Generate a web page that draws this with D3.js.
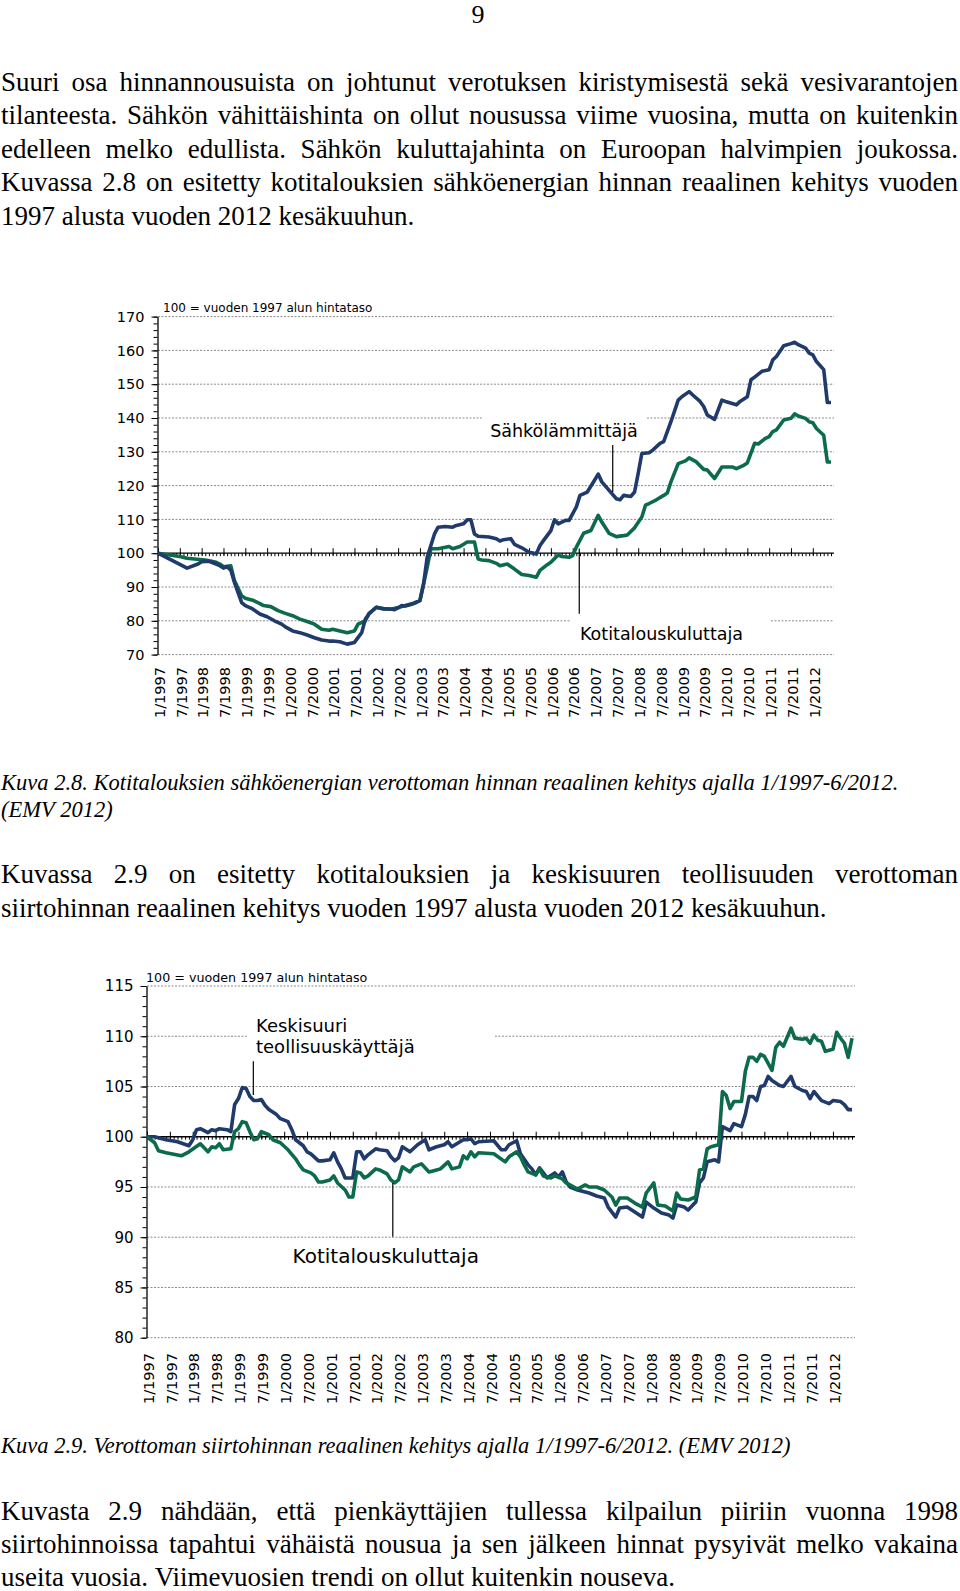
<!DOCTYPE html>
<html><head><meta charset="utf-8">
<script src="https://cdn.jsdelivr.net/npm/d3@7"></script>
<style>body{margin:0;background:#fff}svg{display:block}</style>
</head><body>
<svg id="page" width="960" height="1591"></svg>
<script>
// ---------- DATA ----------
// tick labels on the category axis (every 6th month, starting 1/1997)
const tickLabels = ["1/1997","7/1997","1/1998","7/1998","1/1999","7/1999","1/2000","7/2000","1/2001","7/2001","1/2002","7/2002","1/2003","7/2003","1/2004","7/2004","1/2005","7/2005","1/2006","7/2006","1/2007","7/2007","1/2008","7/2008","1/2009","7/2009","1/2010","7/2010","1/2011","7/2011","1/2012"];
// series: [months since 1/1997, index value]
const fig28Heat = [[0,100],[8,95.6],[11,96.8],[12,97.5],[14,97.6],[16,96.8],[17,96.3],[18,95.6],[19,96.0],[20,95.0],[21,91.4],[23,85.4],[24,84.5],[26,83.5],[28,82.0],[30,81.2],[32,80.0],[34,79.0],[35,78.2],[37,77.0],[39,76.5],[41,75.8],[43,75.0],[45,74.3],[47,74.0],[48,74.0],[50,73.8],[52,73.1],[54,73.6],[56,76.5],[57,80.5],[58,82.0],[60,84.0],[62,83.5],[64,83.5],[65,83.3],[66,83.8],[67,84.5],[68,84.4],[70,85.0],[71,85.4],[72,86.0],[73,90.9],[74,98.8],[76,105.7],[77,107.7],[79,107.9],[81,107.7],[82,108.2],[84,108.7],[85,109.9],[86,109.9],[87,105.7],[88,105.0],[91,104.8],[93,104.3],[94,103.6],[95,104.0],[97,104.3],[98,102.6],[100,101.6],[102,100.3],[104,99.8],[105,102.3],[106,103.8],[108,106.7],[109,109.9],[110,108.7],[112,109.7],[113,109.7],[115,113.7],[116,117.1],[118,118.1],[120,121.6],[121,123.4],[122,121.1],[124,118.6],[126,116.1],[127,115.8],[128,117.1],[130,116.8],[131,118.1],[132,123.6],[133,129.5],[135,129.7],[136,130.5],[138,132.5],[139,133.0],[141,138.9],[143,145.3],[144,146.3],[146,147.8],[147,146.8],[149,144.9],[150,143.4],[151,140.9],[153,139.6],[155,145.3],[156,144.9],[159,143.9],[160,144.9],[162,146.3],[163,151.3],[164,152.1],[166,153.8],[168,154.3],[169,157.2],[170,158.2],[172,161.4],[174,162.0],[175,162.4],[176,161.7],[178,160.7],[179,159.2],[180,158.7],[181,156.7],[183,154.3],[184,144.6],[185,144.6]];
const fig28House = [[0,100],[6,99.0],[8,98.5],[10,98.3],[13,98.0],[16,97.3],[17,96.8],[18,96.0],[20,96.3],[21,91.9],[23,87.4],[24,86.7],[26,86.1],[28,85.1],[29,84.5],[31,84.2],[33,83.0],[35,82.2],[37,81.5],[39,80.5],[41,79.8],[43,79.0],[45,77.5],[47,77.2],[48,77.5],[50,77.0],[52,76.5],[54,77.0],[55,79.0],[57,80.0],[58,82.2],[60,84.0],[62,83.6],[64,83.4],[66,83.9],[68,84.5],[70,85.1],[72,86.0],[74,95.8],[75,101.3],[77,101.3],[80,102.0],[81,101.3],[83,102.0],[85,103.3],[87,103.3],[88,98.3],[89,98.0],[91,97.8],[93,97.0],[94,96.3],[96,96.8],[98,95.3],[100,93.7],[102,93.4],[104,92.9],[105,94.9],[107,96.6],[108,97.3],[110,99.5],[111,99.0],[113,98.8],[114,99.3],[115,101.8],[117,105.9],[119,106.7],[121,111.2],[122,109.2],[124,105.9],[126,104.9],[128,105.2],[129,105.4],[131,107.5],[133,110.7],[134,114.2],[135,114.7],[137,115.8],[139,117.1],[140,117.8],[141,121.1],[143,126.5],[145,127.3],[146,128.2],[148,127.0],[150,124.8],[151,124.6],[153,122.1],[155,125.5],[157,125.5],[158,125.5],[159,125.0],[161,126.0],[162,126.7],[164,132.5],[165,132.3],[167,134.0],[168,134.5],[169,136.0],[170,136.5],[172,139.4],[174,139.9],[175,141.2],[176,140.6],[178,139.9],[179,138.9],[180,138.6],[181,136.9],[183,134.9],[184,127.0],[185,127.0]];
const fig29Industry = [[0,100],[2,100.0],[5,99.7],[8,99.5],[11,99.1],[12,99.7],[13,100.7],[14,100.8],[16,100.4],[17,100.7],[18,100.6],[19,100.8],[21,100.7],[22,100.5],[23,103.2],[24,103.8],[25,104.9],[26,104.8],[27,104.0],[28,103.6],[29,103.6],[30,103.7],[31,103.1],[32,102.7],[34,102.2],[35,101.8],[37,101.5],[38,100.7],[39,99.7],[41,99.1],[42,98.5],[43,98.3],[45,97.6],[46,97.6],[48,97.7],[49,98.4],[50,97.5],[51,96.8],[52,95.9],[54,95.9],[55,98.5],[56,98.5],[57,97.8],[58,98.2],[60,98.8],[61,98.7],[63,98.6],[64,98.0],[65,97.6],[66,97.9],[67,99.0],[69,98.5],[71,99.2],[73,99.7],[74,98.7],[76,99.0],[78,99.2],[79,99.5],[80,99.0],[83,99.7],[84,99.7],[85,99.8],[86,99.3],[87,99.5],[91,99.6],[93,98.7],[94,98.7],[95,99.2],[97,99.6],[98,98.3],[100,97.2],[101,96.8],[102,96.2],[103,96.9],[104,96.4],[105,95.9],[107,96.4],[108,96.0],[109,96.5],[110,95.5],[111,95.0],[113,94.7],[115,94.5],[116,94.4],[118,94.1],[120,93.9],[121,93.0],[122,92.5],[123,92.0],[124,92.9],[126,93.0],[128,92.5],[130,92.0],[131,93.5],[133,92.9],[135,92.4],[137,92.2],[138,91.9],[139,93.2],[141,93.0],[142,92.7],[144,93.5],[145,95.4],[146,95.9],[147,97.5],[149,97.7],[150,97.5],[151,101.0],[153,100.6],[154,101.3],[156,101.0],[157,102.2],[158,104.0],[159,104.0],[160,103.6],[161,105.0],[162,105.1],[163,106.0],[164,105.6],[166,105.1],[167,105.0],[169,106.0],[170,105.0],[172,104.6],[173,104.5],[174,103.8],[175,104.5],[177,103.6],[179,103.3],[180,103.6],[182,103.5],[183,103.2],[184,102.7],[185,102.7]];
const fig29House = [[0,100],[2,99.4],[3,98.6],[5,98.4],[9,98.1],[10,98.3],[11,98.5],[14,99.3],[16,98.5],[17,99.0],[18,98.9],[19,99.3],[20,98.7],[22,98.8],[23,100.5],[24,100.8],[25,101.5],[26,101.4],[27,100.5],[28,99.7],[29,99.8],[30,100.5],[32,100.2],[33,99.7],[35,99.4],[37,98.7],[39,97.8],[40,97.2],[41,96.7],[43,96.4],[44,96.1],[45,95.5],[46,95.5],[48,95.7],[49,96.1],[50,95.4],[52,94.7],[53,94.0],[54,94.0],[55,96.5],[56,96.4],[57,95.9],[58,96.1],[60,96.8],[61,96.7],[63,96.3],[64,95.7],[65,95.4],[66,95.7],[67,97.0],[69,96.5],[70,97.0],[72,97.3],[74,96.5],[76,96.7],[77,96.8],[79,97.5],[80,96.8],[82,97.0],[83,98.1],[84,97.8],[85,98.5],[86,98.0],[87,98.4],[91,98.3],[94,97.5],[95,98.0],[97,98.5],[98,98.0],[99,97.2],[100,96.5],[102,96.2],[103,96.8],[104,96.1],[106,95.9],[107,96.1],[109,95.8],[110,95.4],[113,94.8],[115,95.2],[116,95.0],[118,95.0],[120,94.7],[122,94.0],[123,93.2],[124,93.9],[126,93.9],[128,93.4],[130,93.0],[131,94.4],[133,95.4],[134,93.2],[136,93.1],[138,92.6],[139,94.4],[140,93.8],[142,93.7],[144,94.0],[145,96.7],[146,96.8],[147,98.8],[148,99.0],[150,99.2],[151,104.5],[152,104.1],[153,102.8],[154,103.5],[156,103.5],[157,106.5],[158,107.9],[159,107.9],[160,107.5],[161,108.2],[162,108.0],[163,107.3],[164,106.6],[165,108.9],[166,109.4],[167,109.0],[169,110.8],[170,109.8],[172,109.7],[173,109.8],[174,109.3],[175,110.1],[176,109.6],[177,109.5],[178,108.5],[179,108.6],[180,108.7],[181,110.4],[182,109.8],[183,109.3],[184,107.9],[185,109.8]];

const para1 = ["Suuri osa hinnannousuista on johtunut verotuksen kiristymisestä sekä vesivarantojen",
 "tilanteesta. Sähkön vähittäishinta on ollut nousussa viime vuosina, mutta on kuitenkin",
 "edelleen melko edullista. Sähkön kuluttajahinta on Euroopan halvimpien joukossa.",
 "Kuvassa 2.8 on esitetty kotitalouksien sähköenergian hinnan reaalinen kehitys vuoden",
 "1997 alusta vuoden 2012 kesäkuuhun."];
const caption1 = ["Kuva 2.8. Kotitalouksien sähköenergian verottoman hinnan reaalinen kehitys ajalla 1/1997-6/2012.", "(EMV 2012)"];
const para2 = ["Kuvassa 2.9 on esitetty kotitalouksien ja keskisuuren teollisuuden verottoman",
 "siirtohinnan reaalinen kehitys vuoden 1997 alusta vuoden 2012 kesäkuuhun."];
const caption2 = ["Kuva 2.9. Verottoman siirtohinnan reaalinen kehitys ajalla 1/1997-6/2012. (EMV 2012)"];
const para3 = ["Kuvasta 2.9 nähdään, että pienkäyttäjien tullessa kilpailun piiriin vuonna 1998",
 "siirtohinnoissa tapahtui vähäistä nousua ja sen jälkeen hinnat pysyivät melko vakaina",
 "useita vuosia. Viimevuosien trendi on ollut kuitenkin nouseva."];

// ---------- DRAW ----------
const svg = d3.select("#page");
svg.append("rect").attr("width",960).attr("height",1591).attr("fill","#fff");
const SERIF = "'Liberation Serif','Times New Roman',serif";
const SANS = "'DejaVu Sans',Verdana,sans-serif";
const BLUE = "#203a6b", GREEN = "#0b6b4b";

function textLine(str, yb, o) {
  const t = svg.append("text").attr("y", yb)
    .attr("font-family", SERIF).attr("font-size", o.size)
    .attr("font-style", o.italic ? "italic" : "normal").attr("fill", "#000");
  const words = str.split(" ");
  const spans = words.map(w => t.append("tspan").text(w));
  const widths = spans.map(s => s.node().getComputedTextLength());
  let gap = o.size * 0.25;
  if (o.justify && words.length > 1) gap = (o.width - d3.sum(widths)) / (words.length - 1);
  let cx = o.x0;
  spans.forEach((s, i) => { s.attr("x", cx); cx += widths[i] + gap; });
}
function paragraph(lines, y0, lh, o) {
  lines.forEach((l, i) => textLine(l, y0 + i * lh, Object.assign({}, o, {justify: o.justify && i < lines.length - 1})));
}

const BODY = {size: 27, x0: 1, width: 957, justify: true};
svg.append("text").attr("x", 478).attr("y", 23).attr("text-anchor","middle")
  .attr("font-family", SERIF).attr("font-size", 26).text("9");
paragraph(para1, 91, 33.4, BODY);
paragraph(caption1, 790, 27, {size: 22.5, x0: 1, italic: true, justify: false});
paragraph(para2, 883, 34, BODY);
paragraph(caption2, 1453, 27, {size: 22.5, x0: 1, italic: true, justify: false});
paragraph(para3, 1520, 33, BODY);

function chart(c) {
  const g = svg.append("g");
  const x = d3.scaleLinear().domain([0, 185]).range(c.xRange);
  const y = d3.scaleLinear().domain(c.yDomain).range(c.yRange);
  const xEnd = c.xRange[1] + 3;
  // gridlines (dashed), with gaps behind annotation texts
  c.grid.filter(v => v !== 100).forEach(v => {
    const gap = c.gaps.find(gp => gp[0] === v);
    const segs = gap ? [[c.xRange[0], x(gap[1])], [x(gap[2]), xEnd]] : [[c.xRange[0], xEnd]];
    segs.forEach(s => g.append("line").attr("x1", s[0]).attr("x2", s[1])
      .attr("y1", y(v)).attr("y2", y(v)).attr("stroke", "#8a8a8a")
      .attr("stroke-width", 1).attr("stroke-dasharray", "2,1.5"));
  });
  // y axis
  const minorY = d3.range(c.yDomain[0], c.yDomain[1] + 0.001, c.minorStep);
  g.append("g").attr("transform", `translate(${c.xRange[0] - 0.5},0)`)
    .call(d3.axisLeft(y).tickValues(minorY).tickSize(4).tickFormat(""))
    .call(a => a.select(".domain").remove())
    .call(a => a.selectAll("line").attr("stroke", "#000"));
  g.append("g").attr("transform", `translate(${c.xRange[0] - 0.5},0)`)
    .call(d3.axisLeft(y).tickValues(c.grid).tickSize(6).tickSizeOuter(0).tickPadding(c.yPad).tickFormat(d3.format("d")))
    .call(a => a.select(".domain").attr("stroke", "#000").attr("stroke-width", 1.3))
    .call(a => a.selectAll("line").attr("stroke", "#000"))
    .call(a => a.selectAll("text").attr("font-family", SANS).attr("font-size", c.yFont).attr("fill", "#000"));
  // x axis at 100
  const y100 = y(100);
  g.append("line").attr("x1", c.xRange[0]).attr("x2", xEnd).attr("y1", y100).attr("y2", y100)
    .attr("stroke", "#000").attr("stroke-width", 1.3);
  g.append("g").attr("transform", `translate(0,${y100})`)
    .call(d3.axisBottom(x).tickValues(d3.range(0, 186)).tickSize(3).tickFormat("").tickSizeOuter(0))
    .call(a => a.select(".domain").remove())
    .call(a => a.selectAll("line").attr("stroke", "#000"));
  g.append("g").attr("transform", `translate(0,${y100 + 2})`)
    .call(d3.axisTop(x).tickValues(tickLabels.map((d, i) => i * 6)).tickSize(7).tickFormat("").tickSizeOuter(0))
    .call(a => a.select(".domain").remove())
    .call(a => a.selectAll("line").attr("stroke", "#000"));
  // category labels
  g.append("g").selectAll("text").data(tickLabels).join("text")
    .attr("transform", (d, i) => `translate(${x(i * 6) + 1.5},${c.labelTop}) rotate(-90)`)
    .attr("text-anchor", "end").attr("dy", "0.36em")
    .attr("font-family", SANS).attr("font-size", c.xFont).attr("fill", "#000").text(d => d);
  // annotation "100 = ..."
  g.append("text").attr("x", c.note[0]).attr("y", c.note[1]).attr("font-family", SANS)
    .attr("font-size", c.note[2]).attr("fill", "#000").attr("xml:space", "preserve")
    .text("100 = vuoden 1997 alun hintataso");
  // lines
  const line = d3.line().x(d => x(d[0])).y(d => y(d[1]));
  c.series.forEach(s => g.append("path").datum(s.data).attr("d", line).attr("fill", "none")
    .attr("stroke", s.color).attr("stroke-width", 3.6).attr("stroke-linejoin", "round").attr("stroke-linecap", "butt"));
  // leader lines & labels
  c.leaders.forEach(l => g.append("line").attr("x1", x(l[0])).attr("x2", x(l[0]))
    .attr("y1", y(l[1])).attr("y2", y(l[2])).attr("stroke", "#000").attr("stroke-width", 1.2));
  c.labels.forEach(l => {
    const t = g.append("text").attr("font-family", SANS).attr("font-size", l.size).attr("fill", "#000");
    l.lines.forEach((s, i) => t.append("tspan").attr("x", x(l.m)).attr("y", y(l.v) + i * l.lh).text(s));
  });
}

chart({
  xRange: [158, 831], yDomain: [70, 170], yRange: [654.6, 316.6],
  grid: d3.range(70, 171, 10), minorStep: 2, yFont: 14.5, yPad: 7, xFont: 14.5, labelTop: 667,
  gaps: [[140, 89.0, 134.4], [80, 113.2, 168.5]],
  note: [163, 312, 12],
  series: [{data: fig28House, color: GREEN}, {data: fig28Heat, color: BLUE}],
  leaders: [[125.0, 132, 118.1], [115.8, 101.4, 82.1]],
  labels: [{m: 91.3, v: 134.4, size: 17.5, lines: ["Sähkölämmittäjä"], lh: 0},
           {m: 116.0, v: 74.45, size: 17.5, lines: ["Kotitalouskuluttaja"], lh: 0}]
});
chart({
  xRange: [147, 852], yDomain: [80, 115], yRange: [1337.7, 986],
  grid: d3.range(80, 116, 5), minorStep: 1, yFont: 15, yPad: 7, xFont: 14.5, labelTop: 1353,
  gaps: [[110, 26.2, 91.3]],
  note: [146, 982, 12.7],
  series: [{data: fig29Industry, color: BLUE}, {data: fig29House, color: GREEN}],
  leaders: [[27.9, 107.5, 104.15], [64.5, 95.4, 90.05]],
  labels: [{m: 28.6, v: 110.45, size: 18, lines: ["Keskisuuri", "teollisuuskäyttäjä"], lh: 21},
           {m: 38.2, v: 87.43, size: 20, lines: ["Kotitalouskuluttaja"], lh: 0}]
});
</script>
</body></html>
